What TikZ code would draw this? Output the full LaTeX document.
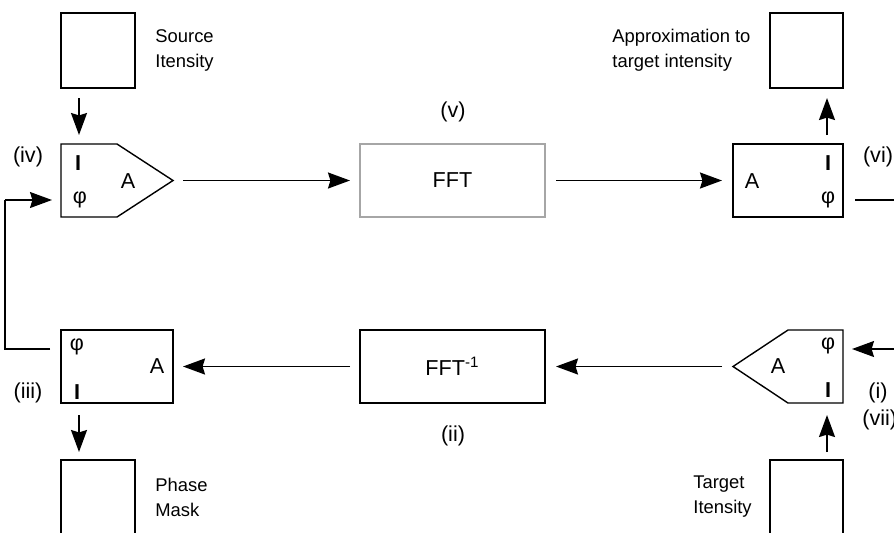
\documentclass[tikz,border=0pt]{standalone}
\usepackage{fontspec}
\setmainfont{Liberation Sans}
\usepackage{tikz}
\usetikzlibrary{arrows.meta}

\tikzset{
    box/.style={draw, line width=0.7pt, inner sep=0pt, outer sep=0pt, minimum height=36.5pt},
    pent/.style={inner sep=0pt, outer sep=0pt, minimum height=36.5pt},
    arr/.style={line width=0.9pt, -{Stealth[length=11pt, width=8pt, inset=1.2pt]}},
    fb/.style={line width=0.6pt},
    lbl/.style={inner sep=0pt, font=\fontsize{9.2}{12.5}\selectfont},
    sym/.style={inner sep=0pt, font=\fontsize{10.8}{13}\selectfont}
}

\begin{document}
\begin{tikzpicture}[x=0.5pt, y=-0.5pt]
        \useasboundingbox (0,0) rectangle (894,532);
        \clip (0,0) rectangle (894,532);

        % top row
        \node[box, minimum width=37pt, minimum height=37.5pt] (src) at (98,50.5) {};
        \node[pent, minimum width=56pt] (iv) at (117,180.5) {};
        \node[box, minimum width=92.5pt, draw=gray!70, sym] (fft) at (452.5,180.5) {FFT};
        \node[box, minimum width=55pt] (vi) at (788,180.5) {};
        \node[box, minimum width=36.5pt, minimum height=37.5pt] (approx) at (806.5,50.5) {};

        % bottom row
        \node[box, minimum width=56pt] (iii) at (117,366.5) {};
        \node[box, minimum width=92.5pt, sym] (ifft) at (452.5,366.5) {FFT\textsuperscript{-1}};
        \node[pent, minimum width=55pt] (i) at (788,366.5) {};
        \node[box, minimum width=37pt, minimum height=40pt] (mask) at (98,500) {};
        \node[box, minimum width=36.5pt, minimum height=40pt] (target) at (806.5,500) {};

        % pentagon outlines
        \draw[line width=0.7pt] (iv.north west) -- (iv.north) -- (iv.east) -- (iv.south) -- (iv.south west) -- cycle;
        \draw[line width=0.7pt] (i.north east) -- (i.north) -- (i.west) -- (i.south) -- (i.south east) -- cycle;

        % letters in the blocks
        \node[sym] (ivI) at (78,163) {\textbf{I}};
        \node[sym] (ivA) at (128,181) {A};
        \node[sym] (ivP) at (80,200) {φ};
        \node[sym] (viA) at (752,181) {A};
        \node[sym] (viI) at (828,163) {\textbf{I}};
        \node[sym] (viP) at (828,200) {φ};
        \node[sym] (iiiP) at (77,347) {φ};
        \node[sym] (iiiA) at (157,366) {A};
        \node[sym] (iiiI) at (77,392) {\textbf{I}};
        \node[sym] (iP) at (828,346) {φ};
        \node[sym] (iA) at (778,366) {A};
        \node[sym] (iI) at (828,390) {\textbf{I}};

        % captions
        \node[lbl, anchor=west, align=left] (srctxt) at (155,50) {Source\\Itensity};
        \node[lbl, anchor=west, align=left] (apptxt) at (612,50) {Approximation to\\target intensity};
        \node[lbl, anchor=west, align=left] (masktxt) at (155,497) {Phase\\Mask};
        \node[lbl, anchor=west, align=left] (tgttxt) at (693,497) {Target\\Itensity};

        \node[sym] (n4) at (28,157) {(iv)};
        \node[sym] (n5) at (453,112) {(v)};
        \node[sym] (n6) at (878,157) {(vi)};
        \node[sym] (n3) at (28,393) {(iii)};
        \node[sym] (n2) at (453,436) {(ii)};
        \node[sym] (n1) at (878,393) {(i)};
        \node[sym, anchor=west] (n7) at (862,420) {(vii)};

        % connectors
        \draw[arr] ([xshift=9pt,yshift=-5pt]src.south west) -- ([xshift=9pt,yshift=4.5pt]iv.north west);
        \draw[arr] ([xshift=5pt]iv.east) -- ([xshift=-5pt]fft.west);
        \draw[arr] ([xshift=5.5pt]fft.east) -- ([xshift=-5.5pt]vi.west);
        \draw[arr] ([xshift=-8pt,yshift=4.5pt]vi.north east) -- ([xshift=-8pt,yshift=-5pt]approx.south east);
        \draw[arr] ([xshift=-5.5pt]i.west) -- ([xshift=5.5pt]ifft.east);
        \draw[arr] ([xshift=-5pt]ifft.west) -- ([xshift=5pt]iii.east);
        \draw[arr] ([xshift=9pt,yshift=-6pt]iii.south west) -- ([xshift=9pt,yshift=4pt]mask.north west);
        \draw[arr] ([xshift=-8pt,yshift=4pt]target.north east) -- ([xshift=-8pt,yshift=-6pt]i.south east);

        \coordinate (rgt) at (920,0);
        \coordinate (lft) at (5,0);
        \draw[fb] ([xshift=6pt,yshift=-9.75pt]vi.east) -- ([yshift=-9.75pt]vi.east -| rgt) -- ([yshift=8.75pt]i.east -| rgt);
        \draw[arr, line width=0.6pt] ([yshift=8.75pt]i.east -| rgt) -- ([xshift=4.5pt,yshift=8.75pt]i.east);
        \draw[fb] ([xshift=-5.5pt,yshift=8.75pt]iii.west) -- ([yshift=8.75pt]iii.west -| lft) -- ([yshift=-9.75pt]iv.west -| lft);
        \draw[arr, line width=0.6pt] ([yshift=-9.75pt]iv.west -| lft) -- ([xshift=-4.5pt,yshift=-9.75pt]iv.west);
    \end{tikzpicture}
\end{document}
